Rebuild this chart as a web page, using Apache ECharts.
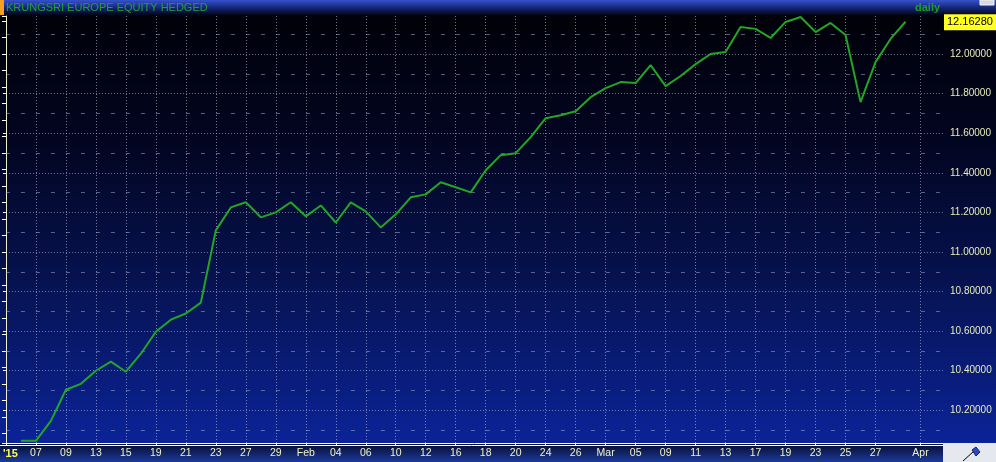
<!DOCTYPE html>
<html>
<head>
<meta charset="utf-8">
<script src="https://cdn.jsdelivr.net/npm/echarts@6/dist/echarts.min.js"></script>
<style>
  html, body { margin: 0; padding: 0; background: #000; overflow: hidden; }
  #chart { width: 996px; height: 462px; }
</style>
</head>
<body>
<div id="chart"></div>
<script>
// trading days shown on the x axis (Jan 05 .. Apr 01, 2015)
const dates = [
  '01-05','01-06','01-07','01-08','01-09','01-12','01-13','01-14','01-15','01-16',
  '01-19','01-20','01-21','01-22','01-23','01-26','01-27','01-28','01-29','01-30',
  '02-02','02-03','02-04','02-05','02-06','02-09','02-10','02-11','02-12','02-13',
  '02-16','02-17','02-18','02-19','02-20','02-23','02-24','02-25','02-26','02-27',
  '03-02','03-03','03-05','03-06','03-09','03-10','03-11','03-12','03-13','03-16',
  '03-17','03-18','03-19','03-20','03-23','03-24','03-25','03-26','03-27','03-30',
  '03-31','04-01'
];
// NAV, null = no point drawn
const prices = [
  null, 10.046, 10.046, 10.147, 10.304, 10.334, 10.400, 10.446, 10.395, 10.486,
  10.597, 10.658, 10.689, 10.744, 11.109, 11.225, 11.251, 11.175, 11.200, 11.251,
  11.180, 11.235, 11.149, 11.251, 11.205, 11.124, 11.190, 11.276, 11.291, 11.352,
  11.327, 11.301, 11.413, 11.489, 11.499, 11.580, 11.676, 11.691, 11.711, 11.782,
  11.828, 11.858, 11.853, 11.944, 11.838, 11.889, 11.949, 12.000, 12.010, 12.137,
  12.127, 12.081, 12.162, 12.187, 12.111, 12.157, 12.096, 11.757, 11.959, 12.076,
  12.1628, null
];
// x axis tick labels
const labelDates = ['01-05','01-07','01-09','01-13','01-15','01-19','01-21','01-23','01-27','01-29',
  '02-02','02-04','02-06','02-10','02-12','02-16','02-18','02-20','02-24','02-26',
  '03-02','03-05','03-09','03-11','03-13','03-17','03-19','03-23','03-25','03-27','04-01'];
const labelTexts = ["'15",'07','09','13','15','19','21','23','27','29',
  'Feb','04','06','10','12','16','18','20','24','26',
  'Mar','05','09','11','13','17','19','23','25','27','Apr'];
// y axis tick labels
const yTicks = [10.2, 10.4, 10.6, 10.8, 11.0, 11.2, 11.4, 11.6, 11.8, 12.0];

const yMin = 10.035, yMax = 12.192;
const labelIdx = labelDates.map(d => dates.indexOf(d));
const lineData = [];
prices.forEach((v, i) => { if (v !== null) lineData.push([i, v]); });
let last = null;
prices.forEach(v => { if (v !== null) last = v; });
// faint dashed lines halfway between the y ticks
const midLevels = yTicks.map(v => +(v - 0.1).toFixed(1)).concat([+(yTicks[yTicks.length - 1] + 0.1).toFixed(1)]);

const font = '"Liberation Sans", Arial, sans-serif';
const dotted = { color: 'rgba(200,210,235,0.55)', type: [1, 2], width: 1 };

const chart = echarts.init(document.getElementById('chart'));
const option = {
  animation: false,
  backgroundColor: new echarts.graphic.LinearGradient(0, 0, 0, 1, [
    { offset: 0, color: '#000006' },
    { offset: 0.3, color: '#020520' },
    { offset: 0.6, color: '#06124f' },
    { offset: 0.96, color: '#0b2398' },
    { offset: 1, color: '#0b2398' }
  ]),
  grid: { left: 5, right: 53, top: 16, bottom: 19 },
  xAxis: {
    type: 'value',
    min: 0,
    max: 62.5,
    axisLine: { show: true, lineStyle: { color: '#ffffff', width: 1 } },
    axisTick: { show: true, customValues: labelIdx, length: 3, lineStyle: { color: '#ffffff' } },
    axisLabel: {
      customValues: labelIdx,
      color: '#f2f2c4',
      fontFamily: font,
      fontSize: 10.5,
      margin: 5,
      formatter: function (v) {
        const t = labelTexts[labelIdx.indexOf(v)];
        if (t === "'15") return '{yr|' + t + '}';
        return t === undefined ? '' : t;
      },
      rich: { yr: { color: '#ffff50', fontWeight: 'bold', fontSize: 11, fontFamily: font, padding: [0, 0, 0, 9] } }
    },
    splitLine: { show: true, lineStyle: dotted }
  },
  yAxis: [
    {
      type: 'value',
      position: 'right',
      min: yMin,
      max: yMax,
      axisLine: { show: true, lineStyle: { color: '#eeeec8', width: 1 } },
      axisTick: { show: true, inside: true, customValues: yTicks, length: 3, lineStyle: { color: '#ffffff' } },
      minorTick: { show: true, splitNumber: 6, length: 2, lineStyle: { color: '#ffffff' } },
      axisLabel: {
        customValues: yTicks,
        color: '#e8ecb8',
        fontFamily: font,
        fontSize: 10,
        margin: 7,
        formatter: v => v.toFixed(5)
      },
      splitLine: { show: true, lineStyle: dotted }
    },
    {
      type: 'value',
      position: 'left',
      min: yMin,
      max: yMax,
      axisLine: { show: false },
      axisTick: { show: true, length: 4, lineStyle: { color: '#ffffff' } },
      minorTick: { show: true, splitNumber: 6, length: 4, lineStyle: { color: '#ffffff' } },
      axisLabel: { show: false },
      splitLine: { show: false }
    }
  ],
  series: [{
    type: 'line',
    data: lineData,
    showSymbol: false,
    symbol: 'none',
    lineStyle: { color: '#22a626', width: 2 },
    z: 5,
    markLine: {
      silent: true,
      symbol: ['none', 'none'],
      data: midLevels.map(v => ({
        yAxis: v,
        lineStyle: { type: [4, 11], color: 'rgba(175,185,215,0.5)', width: 1 },
        label: { show: false }
      })).concat([{
        yAxis: last,
        lineStyle: { color: 'rgba(0,0,0,0)', width: 1 },
        label: {
          show: true,
          position: 'end',
          distance: 1,
          formatter: () => last.toFixed(5),
          backgroundColor: '#ffff20',
          color: '#000000',
          fontFamily: font,
          fontSize: 11,
          padding: [3, 4, 2, 3]
        }
      }])
    }
  }],
  graphic: [
    {
      type: 'rect', z: -10, shape: { x: 0, y: 0, width: 996, height: 16 },
      style: { fill: new echarts.graphic.LinearGradient(0, 0, 0, 1, [
        { offset: 0, color: '#3552cc' }, { offset: 0.45, color: '#18297e' }, { offset: 1, color: '#00000a' }
      ]) }
    },
    { type: 'rect', z: 10, shape: { x: 0, y: 0, width: 4, height: 15 }, style: { fill: '#f4a020' } },
    { type: 'rect', z: 10, shape: { x: 980, y: 0, width: 14, height: 5 }, style: { fill: '#d8dae2', stroke: '#f4f4f8', lineWidth: 1 } },
    {
      type: 'text', z: 10, x: 6, y: 8,
      style: { text: 'KRUNGSRI EUROPE EQUITY HEDGED', fill: '#22a22a', font: '11px ' + font, verticalAlign: 'middle' }
    },
    {
      type: 'text', z: 10, x: 915, y: 8,
      style: { text: 'daily', fill: '#1e9e22', font: 'bold 11px ' + font, verticalAlign: 'middle' }
    },
    {
      type: 'rect', z: -10, shape: { x: 0, y: 443, width: 996, height: 19 },
      style: { fill: new echarts.graphic.LinearGradient(0, 0, 0, 1, [
        { offset: 0, color: '#040a2c' }, { offset: 1, color: '#1c3a9c' }
      ]) }
    },
    { type: 'line', z: 10, shape: { x1: 0, y1: 445.5, x2: 943, y2: 445.5 }, style: { stroke: '#ffffff', lineWidth: 1 } },
    { type: 'rect', z: 10, shape: { x: 943, y: 443, width: 53, height: 19 }, style: { fill: '#e6e8ef' } },
    { type: 'line', z: 11, shape: { x1: 963, y1: 461, x2: 974, y2: 451 }, style: { stroke: '#000000', lineWidth: 1 } },
    { type: 'polygon', z: 11, shape: { points: [[972, 450], [976, 447], [980, 452], [976, 456]] }, style: { fill: '#2a48c8', stroke: '#102080' } }
  ]
};
chart.setOption(option);
</script>
</body>
</html>
